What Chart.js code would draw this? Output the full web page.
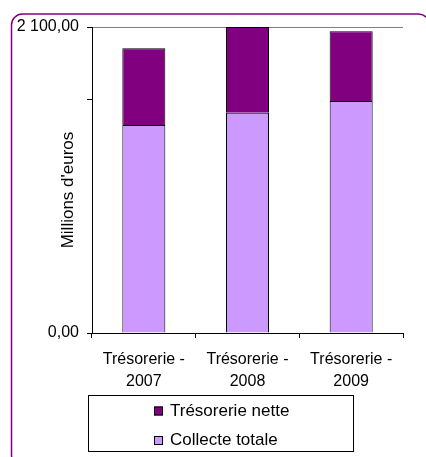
<!DOCTYPE html>
<html>
<head>
<meta charset="utf-8">
<script src="https://cdn.jsdelivr.net/npm/chart.js@4/dist/chart.umd.min.js"></script>
<style>
  html, body { margin: 0; padding: 0; background: #fff; }
  canvas { display: block; }
</style>
</head>
<body>
<canvas id="chart" width="426" height="457"></canvas>
<script>
// values (millions d'euros)
const categories      = [['Trésorerie -', '2007'], ['Trésorerie -', '2008'], ['Trésorerie -', '2009']];
const collecteTotale  = [1427, 1512, 1592];
const tresorerieNette = [527, 588, 479];
const yTickValues     = [0, 1600, 2100];
const yTickLabels     = ['0,00', '', '2 100,00'];
const yTitle          = "Millions d'euros";

const FONT = "'Liberation Sans', Arial, sans-serif";

// purple frame, rotated axis title and the boxed legend (Excel style)
const decorations = {
  id: 'decorations',
  beforeDraw(chart) {
    const c = chart.ctx;
    c.save();
    c.fillStyle = '#fff';
    c.fillRect(0, 0, chart.width, chart.height);
    c.strokeStyle = '#800080';
    c.lineWidth = 1.5;
    c.beginPath();
    c.roundRect(11.5, 14, 418, 452, 11);
    c.stroke();
    c.restore();
  },
  afterDraw(chart) {
    const c = chart.ctx;
    c.save();
    // y title
    c.translate(68, 190);
    c.rotate(-Math.PI / 2);
    c.font = '17px ' + FONT;
    c.fillStyle = '#000';
    c.textAlign = 'center';
    c.textBaseline = 'middle';
    c.fillText(yTitle, 0, 0);
    c.restore();

    // legend box
    c.save();
    c.strokeStyle = '#000';
    c.lineWidth = 1;
    c.strokeRect(88.5, 395.5, 265, 56);
    const items = chart.data.datasets.slice().reverse();
    c.font = '17px ' + FONT;
    c.textBaseline = 'middle';
    items.forEach((ds, i) => {
      const cy = 411 + i * 29.5;
      c.fillStyle = ds.backgroundColor;
      c.fillRect(154, cy - 4.5, 9, 9);
      c.strokeRect(154.5, cy - 4, 8, 8);
      c.fillStyle = '#000';
      c.fillText(ds.label, 170, cy);
    });
    c.restore();
  }
};

new Chart(document.getElementById('chart'), {
  type: 'bar',
  data: {
    labels: categories,
    datasets: [
      {
        label: 'Collecte totale',
        data: collecteTotale,
        backgroundColor: '#CC99FF',
        borderColor: '#000',
        borderWidth: 1
      },
      {
        label: 'Trésorerie nette',
        data: tresorerieNette,
        backgroundColor: '#800080',
        borderColor: '#000',
        borderWidth: 1
      }
    ]
  },
  options: {
    responsive: false,
    animation: false,
    events: [],
    datasets: { bar: { categoryPercentage: 1, barPercentage: 0.415 } },
    layout: { padding: { top: 27, right: 23, bottom: 0, left: 0 } },
    plugins: {
      legend: { display: false },
      tooltip: { enabled: false }
    },
    scales: {
      x: {
        stacked: true,
        afterFit: s => { s.height = 124; },
        border: { color: '#000', width: 1 },
        grid: {
          offset: true,
          drawOnChartArea: false,
          tickLength: 5,
          tickColor: '#000'
        },
        ticks: {
          color: '#000',
          padding: 11,
          maxRotation: 0,
          autoSkip: false,
          font: { family: FONT, size: 16, lineHeight: 1.35 }
        }
      },
      y: {
        stacked: true,
        min: 0,
        max: 2100,
        afterBuildTicks: s => { s.ticks = yTickValues.map(v => ({ value: v })); },
        afterFit: s => { s.width = 92; },
        border: { color: '#000', width: 1 },
        grid: {
          color: ctx => (ctx.tick && ctx.tick.value === 2100) ? '#808080' : 'rgba(0,0,0,0)',
          tickLength: 5,
          tickColor: '#000'
        },
        ticks: {
          color: '#000',
          padding: 8,
          font: { family: FONT, size: 16 },
          callback: (v, i) => yTickLabels[i]
        }
      }
    }
  },
  plugins: [decorations]
});
</script>
</body>
</html>
